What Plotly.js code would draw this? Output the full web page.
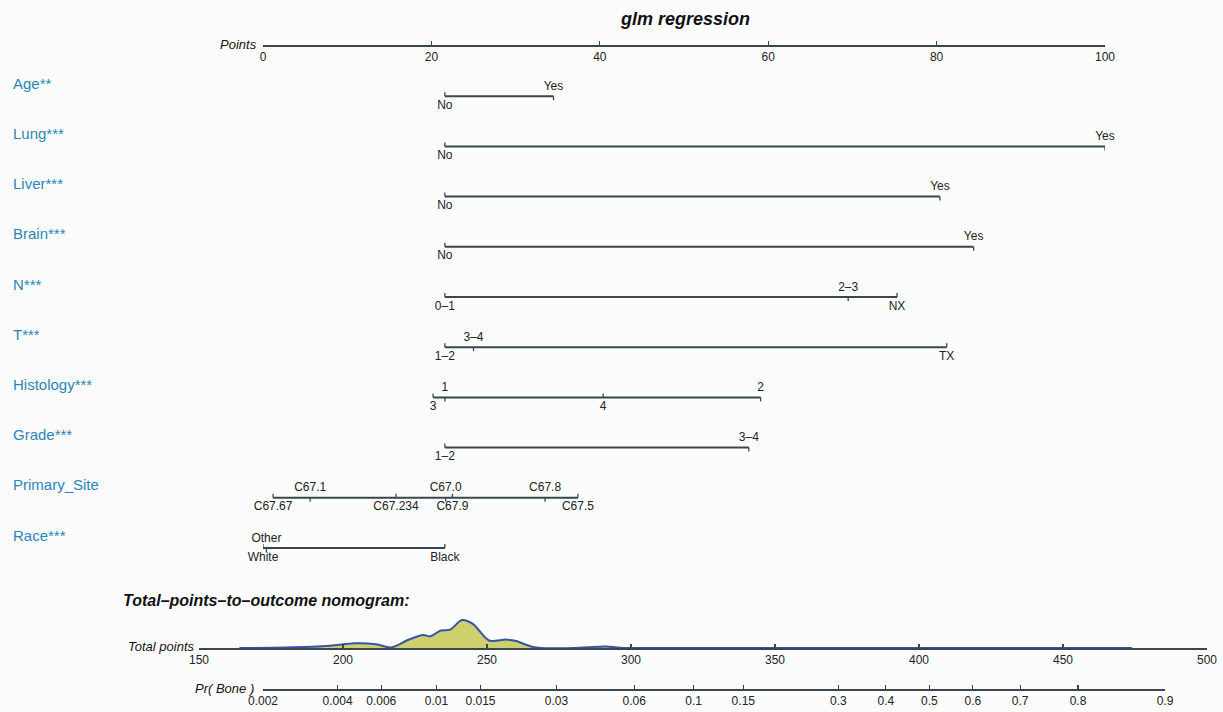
<!DOCTYPE html>
<html>
<head>
<meta charset="utf-8">
<script src="https://cdn.plot.ly/plotly-3.0.1.min.js"></script>
<style>html,body{margin:0;padding:0;background:#fcfcfd;}#chart{width:1223px;height:712px;}</style>
</head>
<body>
<div id="chart"></div>
<script>
// ---------- data ----------
const pointsTicks = [0, 20, 40, 60, 80, 100];
const rowNames = ['Age**', 'Lung***', 'Liver***', 'Brain***', 'N***', 'T***', 'Histology***', 'Grade***', 'Primary_Site', 'Race***'];

const ageLevels = ['No', 'Yes'];            const agePoints = [21.6, 34.5];
const lungLevels = ['No', 'Yes'];           const lungPoints = [21.6, 100];
const liverLevels = ['No', 'Yes'];          const liverPoints = [21.6, 80.4];
const brainLevels = ['No', 'Yes'];          const brainPoints = [21.6, 84.4];
const nLevels = ['0–1', '2–3', 'NX'];       const nPoints = [21.6, 69.5, 75.3];
const tLevels = ['1–2', '3–4', 'TX'];       const tPoints = [21.6, 25.0, 81.2];
const histLevels = ['3', '1', '4', '2'];    const histPoints = [20.2, 21.6, 40.4, 59.1];
const gradeLevels = ['1–2', '3–4'];         const gradePoints = [21.6, 57.7];
const siteLevels = ['C67.67', 'C67.1', 'C67.234', 'C67.0', 'C67.9', 'C67.8', 'C67.5'];
const sitePoints = [1.2, 5.6, 15.8, 21.7, 22.5, 33.5, 37.4];
const raceLevels = ['White', 'Other', 'Black']; const racePoints = [0, 0.4, 21.6];

const totalTicks = [150, 200, 250, 300, 350, 400, 450, 500];
const densityX = [164, 180, 195.5, 204, 211.5, 216.7, 222.9, 227.8, 230.2, 234, 237.2, 241.3, 245.1, 250.7, 256.6, 260.1, 265.3, 268.8, 280, 291.3, 295.1, 300, 320, 474];
const densityY = [0, 0.5, 2.5, 5.4, 4.3, 0.7, 9.7, 15, 13.3, 20, 21, 32, 27.6, 8.6, 9.7, 7.9, 1.8, 0, 0, 1.8, 0.7, 0, 0, 0];

const prTicks = [0.002, 0.004, 0.006, 0.01, 0.015, 0.03, 0.06, 0.1, 0.15, 0.3, 0.4, 0.5, 0.6, 0.7, 0.8, 0.9];

// ---------- build ----------
const W = 1223, H = 712;
const logit = p => Math.log(p / (1 - p));
const rows = [
  [ageLevels, agePoints], [lungLevels, lungPoints], [liverLevels, liverPoints], [brainLevels, brainPoints],
  [nLevels, nPoints], [tLevels, tPoints], [histLevels, histPoints], [gradeLevels, gradePoints],
  [siteLevels, sitePoints], [raceLevels, racePoints]
];
const lineCol = '#39474d';
const txtCol = '#222222';
const smallFont = {family: 'Liberation Sans Narrow, Liberation Sans, Arial, sans-serif', size: 12, color: txtCol};
const rowStep = 50.2, firstRowPx = 46, tickLen = 4 / rowStep, labelOff = 9.5 / rowStep;

const traces = [];
rows.forEach(([levels, pts], k) => {
  const y = k + 1;
  const order = pts.map((v, i) => i).sort((a, b) => pts[a] - pts[b]);
  const above = {x: [], t: []}, below = {x: [], t: []};
  const tx = [], ty = [];
  order.forEach((idx, rank) => {
    const isBelow = rank % 2 === 0;
    (isBelow ? below : above).x.push(pts[idx]);
    (isBelow ? below : above).t.push(levels[idx]);
    tx.push(pts[idx], pts[idx], null);
    ty.push(y, isBelow ? y - tickLen : y + tickLen, null);
  });
  const lo = Math.min(...pts), hi = Math.max(...pts);
  traces.push({type: 'scatter', mode: 'lines', x: [lo, hi], y: [y, y], xaxis: 'x', yaxis: 'y',
    line: {color: lineCol, width: 2}, hoverinfo: 'skip', cliponaxis: false});
  traces.push({type: 'scatter', mode: 'lines', x: tx, y: ty, xaxis: 'x', yaxis: 'y',
    line: {color: lineCol, width: 1.3}, hoverinfo: 'skip', cliponaxis: false});
  traces.push({type: 'scatter', mode: 'text', x: above.x, y: above.x.map(() => y - labelOff), text: above.t,
    textposition: 'middle center', textfont: smallFont, xaxis: 'x', yaxis: 'y', hoverinfo: 'skip', cliponaxis: false});
  traces.push({type: 'scatter', mode: 'text', x: below.x, y: below.x.map(() => y + labelOff), text: below.t,
    textposition: 'middle center', textfont: smallFont, xaxis: 'x', yaxis: 'y', hoverinfo: 'skip', cliponaxis: false});
});

// density on total points axis
traces.push({type: 'scatter', mode: 'lines', x: densityX, y: densityY, xaxis: 'x2', yaxis: 'y2',
  fill: 'tozeroy', fillcolor: 'rgba(204,204,102,0.95)', line: {color: '#3553a8', width: 2, shape: 'spline', smoothing: 0.8},
  hoverinfo: 'skip', cliponaxis: false});
// anchor trace for probability axis
traces.push({type: 'scatter', mode: 'markers', x: [logit(0.5)], y: [0], xaxis: 'x3', yaxis: 'y',
  marker: {opacity: 0}, hoverinfo: 'skip', showlegend: false});

const yTop = -firstRowPx / rowStep;
const yBot = yTop + H / rowStep;
const axisCommon = {showgrid: false, zeroline: false, showline: true, linecolor: lineCol, linewidth: 2,
  ticks: 'inside', ticklen: 4, tickwidth: 1.3, tickcolor: lineCol, tickfont: smallFont, fixedrange: true, side: 'bottom'};

const annotations = [];
rowNames.forEach((name, k) => {
  annotations.push({text: name, xref: 'paper', yref: 'y', x: 11 / W, y: k + 1, yshift: 13,
    xanchor: 'left', yanchor: 'middle', showarrow: false,
    font: {family: 'Liberation Sans, Arial, sans-serif', size: 15, color: '#2b86b8'}});
});
const ital = (sz) => ({family: 'Liberation Sans, Arial, sans-serif', size: sz, color: '#111'});
annotations.push({text: '<b><i>glm regression</i></b>', xref: 'paper', yref: 'paper', x: 685 / W, y: 1 - 19 / H,
  xanchor: 'center', yanchor: 'middle', showarrow: false, font: ital(18)});
annotations.push({text: '<i>Points</i>', xref: 'paper', yref: 'paper', x: 259 / W, y: 1 - 45 / H,
  xanchor: 'right', yanchor: 'middle', showarrow: false, font: ital(13)});
annotations.push({text: '<b><i>Total–points–to–outcome nomogram:</i></b>', xref: 'paper', yref: 'paper', x: 121 / W, y: 1 - 600 / H,
  xanchor: 'left', yanchor: 'middle', showarrow: false, font: ital(16)});
annotations.push({text: '<i>Total points</i>', xref: 'paper', yref: 'paper', x: 197 / W, y: 1 - 646 / H,
  xanchor: 'right', yanchor: 'middle', showarrow: false, font: ital(13)});
annotations.push({text: '<i>Pr( Bone )</i>', xref: 'paper', yref: 'paper', x: 256 / W, y: 1 - 688 / H,
  xanchor: 'right', yanchor: 'middle', showarrow: false, font: ital(13)});

const layout = {
  width: W, height: H, margin: {l: 0, r: 0, t: 0, b: 0, pad: 0},
  paper_bgcolor: '#fcfcfd', plot_bgcolor: 'rgba(0,0,0,0)', showlegend: false,
  xaxis: Object.assign({}, axisCommon, {domain: [263 / W, 1105 / W], range: [0, 100], anchor: 'free',
    position: 1 - firstRowPx / H, tickvals: pointsTicks}),
  yaxis: {domain: [0, 1], range: [yBot, yTop], visible: false, fixedrange: true},
  xaxis2: Object.assign({}, axisCommon, {domain: [199 / W, 1207 / W], range: [150, 500], anchor: 'y2',
    tickvals: totalTicks}),
  yaxis2: {domain: [(H - 648) / H, (H - 613) / H], range: [0, 40], visible: false, anchor: 'x2', fixedrange: true},
  xaxis3: Object.assign({}, axisCommon, {domain: [263 / W, 1165 / W], range: [logit(0.002), logit(0.9)], anchor: 'free',
    position: 1 - 690 / H, tickvals: prTicks.map(logit), ticktext: prTicks.map(String)}),
  annotations: annotations
};

Plotly.newPlot('chart', traces, layout, {staticPlot: true, displayModeBar: false});
</script>
</body>
</html>
